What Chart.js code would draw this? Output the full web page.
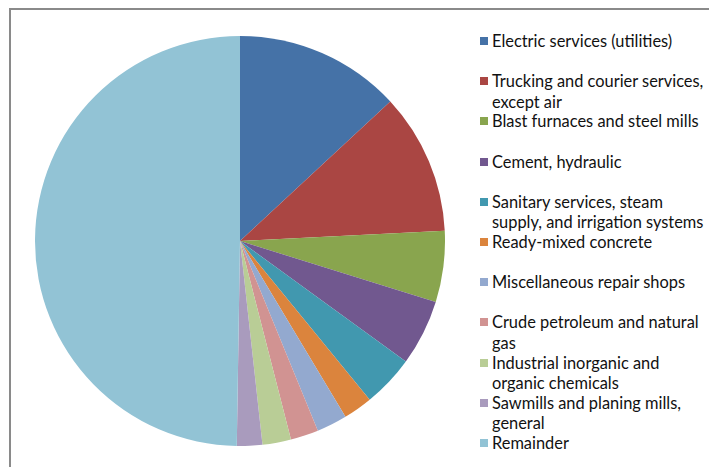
<!DOCTYPE html>
<html>
<head>
<meta charset="utf-8">
<script src="https://cdn.jsdelivr.net/npm/chart.js@4"></script>
<style>
  html, body { margin:0; padding:0; background:#fff; }
  body { width:709px; height:467px; position:relative; overflow:hidden; font-family:Lato, "Open Sans", sans-serif; }
  .frame { position:absolute; left:9px; top:8px; width:720px; height:480px; border-top:2px solid #8a8a8a; border-left:2px solid #8a8a8a; }
  .pie-wrap { position:absolute; left:35px; top:36px; width:410px; height:410px; }
  #legend { position:absolute; left:480px; top:31px; width:230px; }
  .lg-item { position:absolute; left:0; height:40px; font-size:16.4px; line-height:20.5px; color:#111; padding-left:12px; white-space:nowrap; }
  .lg-box { position:absolute; left:0; top:6px; width:8px; height:8px; }
</style>
</head>
<body>
<div class="frame"></div>
<div class="pie-wrap"><canvas id="pieChart"></canvas></div>
<div id="legend"></div>
<script>
// categories (legend lines as shown in the picture)
const labelLines = [
  ['Electric services (utilities)'],
  ['Trucking and courier services,', 'except air'],
  ['Blast furnaces and steel mills'],
  ['Cement, hydraulic'],
  ['Sanitary services, steam', 'supply, and irrigation systems'],
  ['Ready-mixed concrete'],
  ['Miscellaneous repair shops'],
  ['Crude petroleum and natural', 'gas'],
  ['Industrial inorganic and', 'organic chemicals'],
  ['Sawmills and planing mills,', 'general'],
  ['Remainder']
];
const labels = labelLines.map(l => l.join(' '));
// share of total (%)
const shares = [13.1, 11.1, 5.6, 5.2, 4.1, 2.3, 2.4, 2.2, 2.25, 2.0, 49.75];
const colors = ['#4572A7','#AA4643','#89A54E','#71588F','#4198AF','#DB843D','#93A9CF','#D19392','#B9CD96','#A99BBD','#92C3D5'];

// legend
const legend = document.getElementById('legend');
legend.innerHTML = labelLines.map((lines, i) => `
  <div class="lg-item" style="top:${i * 40.2}px">
    <span class="lg-box" style="background:${colors[i]}"></span>${lines.join('<br>')}
  </div>`).join('');

new Chart(document.getElementById('pieChart'), {
  type: 'pie',
  data: { labels, datasets: [{ data: shares, backgroundColor: colors, borderWidth: 0 }] },
  options: {
    responsive: true, maintainAspectRatio: false, animation: false,
    layout: { padding: 0 },
    plugins: { legend: { display: false }, tooltip: { enabled: false } }
  }
});
</script>
</body>
</html>
